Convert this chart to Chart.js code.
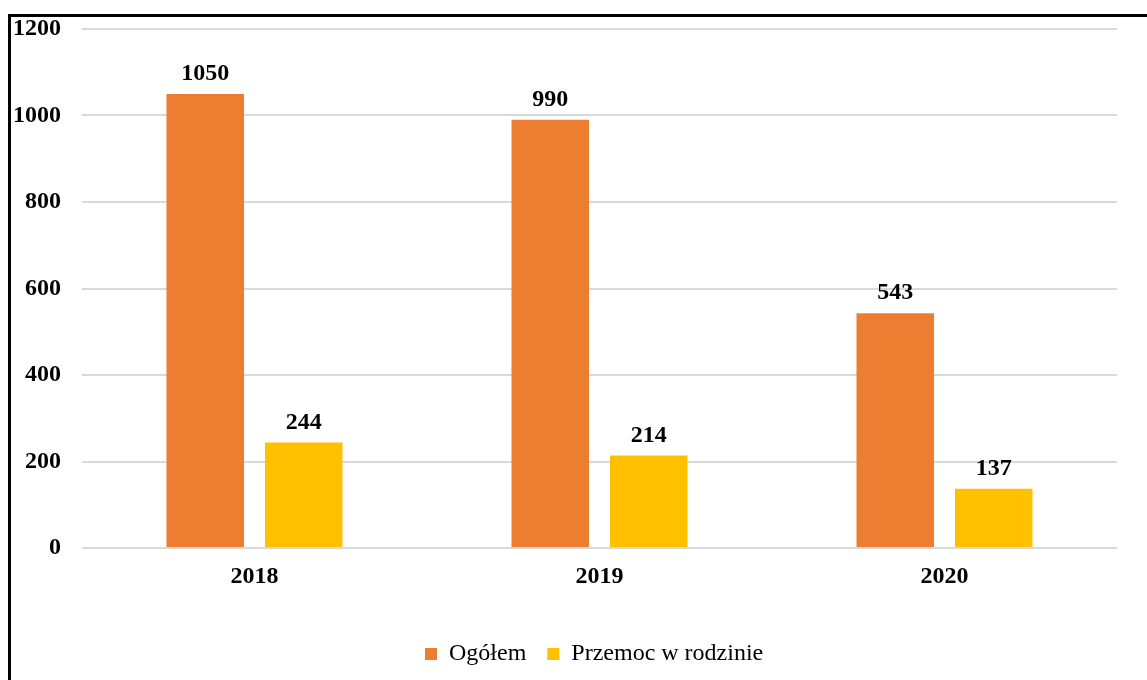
<!DOCTYPE html>
<html>
<head>
<meta charset="utf-8">
<script src="https://cdn.jsdelivr.net/npm/chart.js@4"></script>
<style>
  html, body { margin: 0; padding: 0; background: #fff; overflow: hidden; }
  #wrap { position: relative; width: 1147px; height: 680px; }
  #frame { position: absolute; left: 8px; top: 14px; width: 3000px; height: 3000px;
           border-top: 3px solid #000; border-left: 3px solid #000; pointer-events: none; }
  canvas { position: absolute; left: 0; top: 0; }
</style>
</head>
<body>
<div id="wrap">
  <canvas id="c" width="1147" height="680"></canvas>
  <div id="frame"></div>
</div>
<script>
const categories = ['2018', '2019', '2020'];
const seriesNames = ['Ogółem', 'Przemoc w rodzinie'];
const ogolem = [1050, 990, 543];
const przemoc = [244, 214, 137];
const yTicks = [0, 200, 400, 600, 800, 1000, 1200];

const FONT = "'Liberation Serif', 'Times New Roman', serif";

const valueLabels = {
  id: 'valueLabels',
  afterDatasetsDraw(chart) {
    const ctx = chart.ctx;
    ctx.save();
    ctx.font = 'bold 24px ' + FONT;
    ctx.fillStyle = '#000';
    ctx.textAlign = 'center';
    ctx.textBaseline = 'middle';
    chart.data.datasets.forEach((ds, i) => {
      chart.getDatasetMeta(i).data.forEach((bar, j) => {
        ctx.fillText(String(ds.data[j]), bar.x, bar.y - 20);
      });
    });
    ctx.restore();
  }
};

const legendShift = {
  id: 'legendShift',
  afterLayout(chart) {
    const lg = chart.legend;
    if (!lg || lg._shiftPatched) return;
    lg._shiftPatched = true;
    const orig = lg.draw.bind(lg);
    lg.draw = function (area) {
      const ctx = chart.ctx;
      const pad = lg.options.labels.padding;
      ctx.save();
      ctx.translate(425 - (lg.left + pad), -4);
      orig(area);
      ctx.restore();
    };
  }
};

new Chart(document.getElementById('c'), {
  type: 'bar',
  data: {
    labels: categories,
    datasets: [
      { label: seriesNames[0], data: ogolem, backgroundColor: '#ED7D31',
        categoryPercentage: 0.571, barPercentage: 0.787 },
      { label: seriesNames[1], data: przemoc, backgroundColor: '#FFC000',
        categoryPercentage: 0.571, barPercentage: 0.787 }
    ]
  },
  options: {
    responsive: false,
    animation: false,
    layout: { padding: { top: 29, right: 30, bottom: 0, left: 0 } },
    scales: {
      x: {
        grid: { display: false, drawTicks: false },
        border: { display: false },
        ticks: { color: '#000', font: { family: FONT, size: 24, weight: 'bold' }, padding: 14 },
        afterFit(scale) { scale.height = 77; }
      },
      y: {
        min: 0, max: 1200,
        afterBuildTicks(scale) { scale.ticks = yTicks.map(v => ({ value: v })); },
        grid: { color: '#d9d9d9', lineWidth: 2, drawTicks: false },
        border: { display: false },
        ticks: { color: '#000', font: { family: FONT, size: 24, weight: 'bold' }, padding: 21,
                 callback: v => String(v) },
        afterFit(scale) { scale.width = 82; scale.paddingTop = 0; scale.paddingBottom = 0; }
      }
    },
    plugins: {
      tooltip: { enabled: false },
      legend: {
        position: 'bottom',
        align: 'start',
        labels: {
          boxWidth: 12, boxHeight: 12, padding: 21, color: '#000',
          font: { family: FONT, size: 24 }
        }
      }
    }
  },
  plugins: [valueLabels, legendShift]
});
</script>
</body>
</html>
